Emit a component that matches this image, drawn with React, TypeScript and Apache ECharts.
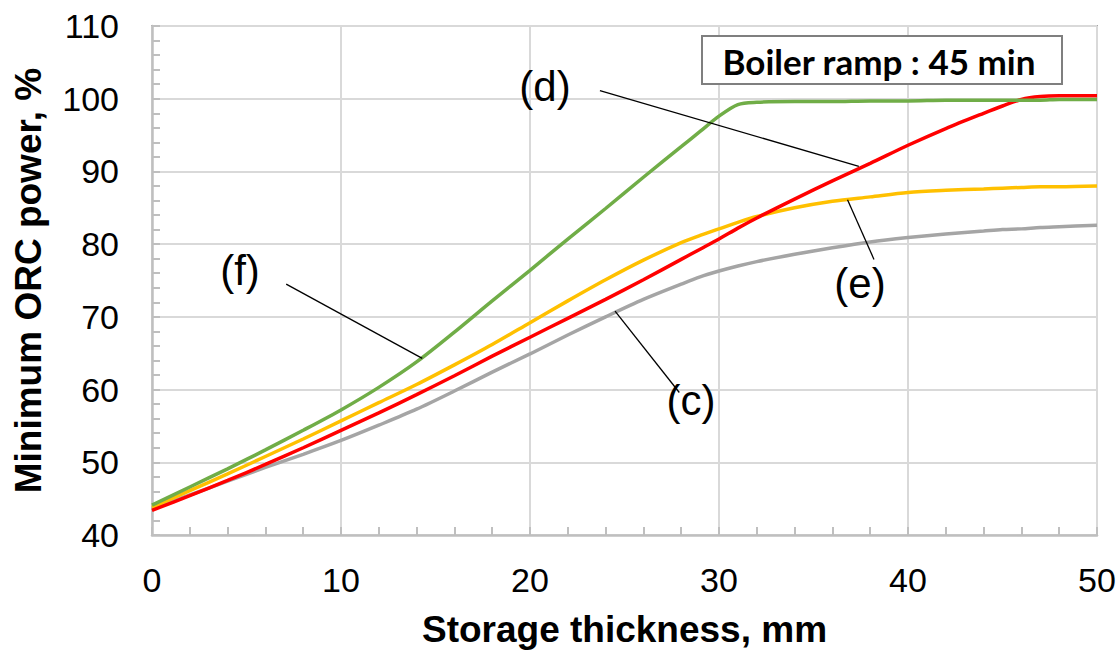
import React, { useEffect, useRef } from "react";
import * as echarts from "echarts";

const thickness = [0, 2, 4, 6, 8, 10, 12, 14, 16, 18, 20, 22, 24, 26, 28, 29, 30, 31, 32, 34, 36, 38, 40, 42, 44, 45, 46, 47, 48, 50];
const seriesC = [43.6, 45.5, 47.4, 49.3, 51.1, 53.0, 55.1, 57.3, 59.8, 62.4, 64.9, 67.5, 70.0, 72.4, 74.5, 75.5, 76.3, 77.0, 77.6, 78.6, 79.5, 80.3, 80.9, 81.4, 81.8, 82.0, 82.1, 82.3, 82.4, 82.6];
const seriesE = [43.8, 46.1, 48.4, 50.8, 53.2, 55.7, 58.2, 60.7, 63.4, 66.2, 69.2, 72.2, 75.1, 77.8, 80.2, 81.2, 82.1, 83.0, 83.8, 85.0, 85.9, 86.5, 87.1, 87.4, 87.6, 87.7, 87.8, 87.9, 87.9, 88.0];
const seriesD = [43.4, 45.4, 47.5, 49.7, 52.0, 54.4, 56.8, 59.3, 61.9, 64.6, 67.2, 69.8, 72.4, 75.1, 77.9, 79.3, 80.7, 82.2, 83.6, 86.2, 88.7, 91.1, 93.6, 95.9, 98.0, 99.0, 99.9, 100.3, 100.4, 100.4];
const seriesF = [44.1, 46.6, 49.1, 51.7, 54.4, 57.2, 60.3, 63.8, 67.9, 72.2, 76.4, 80.7, 84.9, 89.2, 93.4, 95.5, 97.6, 99.2, 99.5, 99.6, 99.6, 99.7, 99.7, 99.8, 99.8, 99.8, 99.8, 99.8, 99.9, 99.9];

const leaderC = [[24.5, 70.8], [27.9, 59.6]];
const leaderE = [[36.8, 86.1], [38.2, 77.9]];
const leaderD = [[23.7, 101.1], [37.4, 90.7]];
const leaderF = [[7.1, 74.5], [14.3, 64.3]];

const pair = (ys: number[]) => thickness.map((x, i) => [x, ys[i]]);

function leader(pts: number[][]) {
  return {
    silent: true,
    symbol: ["none", "none"],
    lineStyle: { color: "#000", width: 1.3, type: "solid" },
    label: { show: false },
    emphasis: { disabled: true },
    data: [[{ coord: pts[0] }, { coord: pts[1] }]],
  };
}

export default function App() {
  const ref = useRef<HTMLDivElement>(null);
  useEffect(() => {
    const chart = echarts.init(ref.current!, null, { renderer: "svg" });
    const font = "'Liberation Sans', Arial, sans-serif";
    const mk = (name: string, color: string, ys: number[], pts: number[][]) => ({
      name,
      type: "line",
      smooth: 0.3,
      showSymbol: false,
      symbol: "none",
      data: pair(ys),
      lineStyle: { color, width: 3.5 },
      itemStyle: { color },
      markLine: leader(pts),
    });
    chart.setOption({
      animation: false,
      grid: {
        left: 152,
        top: 26,
        width: 945,
        height: 514,
        show: true,
        borderColor: "#a6a6a6",
        borderWidth: 2,
        backgroundColor: "transparent",
      },
      xAxis: {
        type: "value",
        min: 0,
        max: 50,
        interval: 10,
        name: "Storage thickness, mm",
        nameLocation: "middle",
        nameGap: 76,
        nameTextStyle: { fontFamily: font, fontWeight: "bold", fontSize: 37, color: "#000" },
        axisLine: { show: true, lineStyle: { color: "#bfbfbf", width: 2.5 } },
        axisTick: { show: true, inside: true, length: 8, lineStyle: { color: "#bfbfbf", width: 2 } },
        minorTick: { show: true, splitNumber: 5, length: 8, lineStyle: { color: "#bfbfbf", width: 2 } },
        splitLine: { show: true, lineStyle: { color: "#d9d9d9", width: 2 } },
        axisLabel: { fontFamily: font, fontSize: 34, color: "#000", margin: 28 },
      },
      yAxis: {
        type: "value",
        min: 40,
        max: 110,
        interval: 10,
        name: "Minimum ORC power, %",
        nameLocation: "middle",
        nameGap: 105,
        nameTextStyle: { fontFamily: font, fontWeight: "bold", fontSize: 37, color: "#000" },
        axisLine: { show: true, lineStyle: { color: "#bfbfbf", width: 2.5 } },
        axisTick: { show: true, inside: true, length: 8, lineStyle: { color: "#bfbfbf", width: 2 } },
        minorTick: { show: true, splitNumber: 5, length: 8, lineStyle: { color: "#bfbfbf", width: 2 } },
        splitLine: { show: true, lineStyle: { color: "#d9d9d9", width: 2 } },
        axisLabel: { fontFamily: font, fontSize: 34, color: "#000", margin: 33 },
      },
      series: [
        mk("(c)", "#a5a5a5", seriesC, leaderC),
        mk("(e)", "#ffc000", seriesE, leaderE),
        mk("(d)", "#ff0000", seriesD, leaderD),
        mk("(f)", "#70ad47", seriesF, leaderF),
      ],
      graphic: [
        {
          type: "rect",
          shape: { x: 702, y: 36, width: 360, height: 48 },
          style: { fill: "#fff", stroke: "#7f7f7f", lineWidth: 2 },
          z: 10,
        },
        {
          type: "text",
          x: 879,
          y: 61,
          z: 11,
          style: {
            text: "Boiler ramp : 45 min",
            fontFamily: "Lato, 'Open Sans', sans-serif",
            fontWeight: "bold",
            fontSize: 35,
            fill: "#000",
            align: "center",
            verticalAlign: "middle",
          },
        },
        ...[
          ["(d)", 545, 86],
          ["(f)", 240, 270],
          ["(e)", 860, 283],
          ["(c)", 691, 400],
        ].map(([t, x, y]) => ({
          type: "text",
          x,
          y,
          z: 11,
          style: {
            text: t,
            fontFamily: font,
            fontSize: 42,
            fill: "#000",
            align: "center",
            verticalAlign: "middle",
          },
        })),
      ],
    });
    return () => chart.dispose();
  }, []);
  return (
    <div
      ref={ref}
      style={{ position: "fixed", left: 0, top: 0, width: 1120, height: 653, background: "#fff" }}
    />
  );
}
